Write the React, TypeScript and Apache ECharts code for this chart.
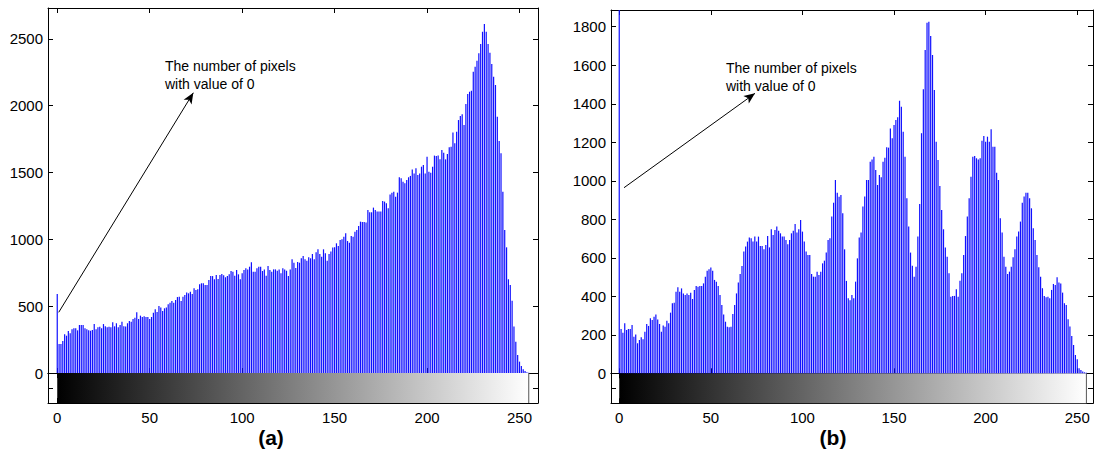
import React, { useEffect, useRef } from 'react';
import * as echarts from 'echarts';

// Gray levels 0..255 (histogram bins)
const grayLevels: number[] = [];
for (let i = 0; i < 256; i++) grayLevels.push(i);

// Histogram (a): pixel counts for each gray level
const countsA = [
  591, 217, 217, 240, 289, 279, 314, 297, 327, 334, 334, 319, 359, 359, 359, 334,
  327, 319, 316, 322, 366, 327, 342, 346, 334, 366, 349, 342, 346, 342, 379, 349,
  372, 342, 359, 384, 349, 347, 372, 389, 384, 404, 414, 454, 404, 429, 419, 424,
  419, 419, 404, 419, 451, 476, 456, 501, 489, 464, 484, 489, 514, 526, 538, 526,
  546, 568, 571, 538, 571, 583, 603, 596, 608, 591, 633, 621, 626, 663, 671, 671,
  658, 658, 696, 725, 725, 701, 733, 703, 733, 740, 731, 716, 725, 738, 763, 758,
  728, 770, 738, 701, 746, 770, 783, 775, 795, 828, 758, 758, 783, 795, 795, 763,
  775, 728, 800, 770, 758, 775, 775, 765, 775, 746, 783, 775, 765, 725, 775, 850,
  825, 785, 830, 825, 858, 875, 850, 840, 865, 858, 890, 850, 903, 925, 890, 870,
  925, 895, 840, 890, 908, 938, 940, 970, 950, 995, 1000, 1020, 1045, 987, 975, 1025,
  1020, 1057, 1070, 1100, 1132, 1130, 1130, 1125, 1219, 1202, 1202, 1237, 1219, 1207, 1207, 1207,
  1287, 1282, 1269, 1232, 1336, 1349, 1356, 1319, 1349, 1464, 1456, 1431, 1419, 1444, 1464, 1474,
  1523, 1493, 1531, 1481, 1493, 1543, 1556, 1493, 1618, 1506, 1498, 1543, 1626, 1623, 1626, 1598,
  1668, 1648, 1598, 1638, 1688, 1693, 1798, 1718, 1805, 1892, 1922, 1935, 1855, 2012, 2087, 2104,
  2112, 2254, 2291, 2336, 2391, 2461, 2553, 2610, 2553, 2461, 2396, 2311, 2216, 2154, 1917, 1735,
  1643, 1356, 1070, 940, 701, 658, 541, 347, 234, 135, 85, 52, 28, 15, 5, 2,
];

// Histogram (b): pixel counts for each gray level (bin 0 is off the scale)
const countsB = [
  4000, 230, 211, 260, 225, 230, 230, 251, 190, 202, 156, 173, 187, 177, 216, 256,
  246, 286, 277, 294, 306, 280, 256, 216, 248, 242, 273, 260, 315, 364, 367, 424,
  447, 424, 441, 415, 407, 415, 407, 419, 386, 433, 453, 450, 453, 453, 467, 502,
  533, 540, 550, 533, 485, 476, 453, 407, 355, 306, 268, 242, 239, 242, 308, 355,
  415, 471, 516, 557, 632, 658, 684, 706, 701, 684, 710, 684, 710, 661, 661, 644,
  666, 713, 654, 748, 718, 744, 762, 741, 727, 710, 710, 692, 670, 692, 727, 741,
  775, 731, 748, 796, 736, 684, 632, 614, 614, 516, 502, 502, 528, 511, 528, 571,
  585, 627, 692, 701, 814, 886, 1004, 938, 917, 926, 831, 644, 480, 390, 380, 407,
  390, 476, 597, 705, 731, 866, 918, 1004, 1004, 1099, 1111, 1125, 1056, 978, 1030, 1018,
  1099, 1120, 1174, 1172, 1272, 1221, 1290, 1316, 1330, 1416, 1385, 1255, 1125, 909, 762, 627,
  558, 502, 554, 710, 880, 1247, 1475, 1679, 1821, 1826, 1752, 1653, 1472, 1203, 1108, 973,
  848, 748, 654, 606, 520, 398, 402, 402, 436, 398, 481, 520, 615, 713, 814, 909,
  1021, 1125, 1129, 1117, 1111, 1117, 1208, 1233, 1203, 1229, 1203, 1267, 1177, 1177, 1042, 1004,
  805, 731, 606, 554, 516, 528, 554, 603, 644, 710, 736, 788, 886, 918, 938, 938,
  909, 857, 753, 693, 615, 551, 502, 442, 402, 395, 398, 390, 433, 464, 459, 499,
  471, 467, 419, 364, 355, 281, 243, 194, 147, 95, 73, 26, 17, 9, 5, 3,
];

const xTickValues = [0, 50, 100, 150, 200, 250];
const yTickValuesA = [0, 500, 1000, 1500, 2000, 2500];
const yTickValuesB = [0, 200, 400, 600, 800, 1000, 1200, 1400, 1600, 1800];
const colorbarRange = [0, 255];
const annotationText = ['The number of pixels', 'with value of 0'];
const panelLabels = ['(a)', '(b)'];

const FONT = '"Liberation Sans", Arial, Helvetica, sans-serif';

interface Panel {
  left: number; width: number; top: number; zeroY: number; cbHeight: number;
  xMin: number; xMax: number; yMax: number; yTicks: number[]; counts: number[];
  arrowFrom: number[]; arrowTo: number[]; textLeft: number; textTop: number;
  labelX: number; label: string;
}

const panels: Panel[] = [
  {
    left: 48, width: 490, top: 8, zeroY: 373, cbHeight: 30,
    xMin: -5, xMax: 260, yMax: 2730, yTicks: yTickValuesA, counts: countsA,
    arrowFrom: [0.8, 454], arrowTo: [73.6, 2096], textLeft: 165, textTop: 57,
    labelX: 271, label: panelLabels[0],
  },
  {
    left: 611, width: 482, top: 10, zeroY: 373.3, cbHeight: 30,
    xMin: -4.5, xMax: 258.6, yMax: 1887, yTicks: yTickValuesB, counts: countsB,
    arrowFrom: [2.6, 964], arrowTo: [74.1, 1454], textLeft: 726, textTop: 59.5,
    labelX: 833, label: panelLabels[1],
  },
];

const plain = (v: number) => String(v);

function buildOption() {
  const grid: any[] = [];
  const xAxis: any[] = [];
  const yAxis: any[] = [];
  const series: any[] = [];
  const graphic: any[] = [];
  const lineStyle = { color: '#000', width: 1 };

  panels.forEach((p, pi) => {
    const gHist = pi * 2;
    const gCb = pi * 2 + 1;
    grid.push({ left: p.left, top: p.top, width: p.width, height: p.zeroY - p.top });
    grid.push({ left: p.left, top: p.zeroY, width: p.width, height: p.cbHeight });

    const mkX = (gi: number, position: string, labels: boolean) => ({
      type: 'value', gridIndex: gi, position, min: p.xMin, max: p.xMax,
      axisLine: { show: true, onZero: false, lineStyle },
      axisTick: { show: true, inside: true, length: 5, lineStyle, customValues: xTickValues },
      axisLabel: labels
        ? { show: true, customValues: xTickValues, formatter: plain, color: '#000', fontSize: 15, fontFamily: FONT, margin: 7 }
        : { show: false },
      splitLine: { show: false },
    });
    xAxis.push(mkX(gHist, 'bottom', false));
    xAxis.push(mkX(gHist, 'top', false));
    xAxis.push(mkX(gCb, 'bottom', true));
    xAxis.push(mkX(gCb, 'top', false));

    const mkY = (gi: number, position: string, labels: boolean) => ({
      type: 'value', gridIndex: gi, position, min: 0, max: p.yMax,
      axisLine: { show: true, onZero: false, lineStyle },
      axisTick: { show: true, inside: true, length: 5, lineStyle, customValues: p.yTicks },
      axisLabel: labels
        ? { show: true, customValues: p.yTicks, formatter: plain, color: '#000', fontSize: 15, fontFamily: FONT, margin: 5 }
        : { show: false },
      splitLine: { show: false },
    });
    yAxis.push(mkY(gHist, 'left', true));
    yAxis.push(mkY(gHist, 'right', false));

    const mkCbY = (position: string) => ({
      type: 'value', gridIndex: gCb, position, min: 0, max: 1,
      axisLine: { show: true, onZero: false, lineStyle },
      axisTick: { show: true, inside: true, length: 5, lineStyle, customValues: [0.5] },
      axisLabel: { show: false },
      splitLine: { show: false },
    });
    yAxis.push(mkCbY('left'));
    yAxis.push(mkCbY('right'));

    const xHist = pi * 4;
    const xCb = pi * 4 + 2;
    const yHist = pi * 4;
    const yCb = pi * 4 + 2;

    series.push({
      type: 'bar',
      xAxisIndex: xHist,
      yAxisIndex: yHist,
      data: grayLevels.map((g) => [g, p.counts[g]]),
      barWidth: 1.2,
      clip: true,
      itemStyle: { color: '#1010ff' },
      silent: true,
      markLine: {
        silent: true,
        symbol: ['none', 'arrow'],
        symbolSize: [7, 11],
        lineStyle: { color: '#000', width: 1, type: 'solid' },
        label: { show: false },
        animation: false,
        data: [[{ coord: p.arrowFrom }, { coord: p.arrowTo }]],
      },
    });

    series.push({
      type: 'custom',
      xAxisIndex: xCb,
      yAxisIndex: yCb,
      data: [colorbarRange],
      silent: true,
      renderItem: (params: any, api: any) => {
        const p0 = api.coord([api.value(0), 1]);
        const p1 = api.coord([api.value(1), 0]);
        return {
          type: 'group',
          children: [
            {
              type: 'rect',
              shape: { x: p0[0], y: p0[1], width: p1[0] - p0[0], height: p1[1] - p0[1] },
              style: {
                fill: new echarts.graphic.LinearGradient(0, 0, 1, 0, [
                  { offset: 0, color: '#000000' },
                  { offset: 1, color: '#ffffff' },
                ]),
              },
            },
            {
              type: 'line',
              shape: { x1: p1[0], y1: p0[1], x2: p1[0], y2: p1[1] },
              style: { stroke: '#555', lineWidth: 1 },
            },
          ],
        };
      },
    });

    graphic.push({
      type: 'text',
      left: p.textLeft,
      top: p.textTop,
      style: {
        text: annotationText.join('\n'),
        fill: '#000',
        font: `14px ${FONT}`,
        lineHeight: 17.7,
      },
    });
    graphic.push({
      type: 'text',
      x: p.labelX,
      y: 437,
      style: {
        text: p.label,
        fill: '#000',
        font: `bold 21px ${FONT}`,
        align: 'center',
        verticalAlign: 'middle',
      },
    });
  });

  return { animation: false, grid, xAxis, yAxis, series, graphic };
}

export default function App() {
  const ref = useRef<HTMLDivElement>(null);
  useEffect(() => {
    if (!ref.current) return;
    const chart = echarts.init(ref.current, undefined, { renderer: 'svg' });
    chart.setOption(buildOption() as any);
    return () => chart.dispose();
  }, []);
  return (
    <div
      ref={ref}
      style={{ position: 'fixed', left: 0, top: 0, width: 1094, height: 456, background: '#fff' }}
    />
  );
}
